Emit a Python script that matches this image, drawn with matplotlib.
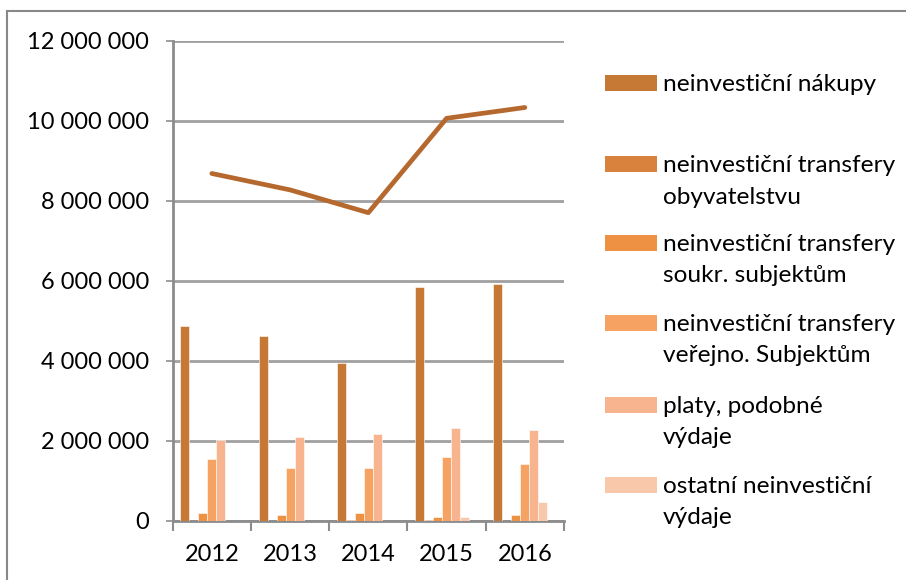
import matplotlib
matplotlib.use("Agg")
import matplotlib.pyplot as plt
from matplotlib.patches import Rectangle
from matplotlib.lines import Line2D
from matplotlib.ticker import FuncFormatter, FixedLocator
import numpy as np

years = ["2012", "2013", "2014", "2015", "2016"]

nakupy = [4860000, 4620000, 3950000, 5850000, 5910000]
transfery_obyv = [0, 0, 15000, 15000, 0]
transfery_soukr = [185000, 140000, 195000, 100000, 140000]
transfery_verej = [1550000, 1330000, 1310000, 1590000, 1420000]
platy = [2020000, 2100000, 2160000, 2320000, 2280000]
ostatni = [0, 0, 0, 85000, 470000]
celkem_linie = [8680000, 8270000, 7700000, 10060000, 10330000]

series = [nakupy, transfery_obyv, transfery_soukr, transfery_verej, platy, ostatni]
labels = [
    ["neinvestiční nákupy"],
    ["neinvestiční transfery", "obyvatelstvu"],
    ["neinvestiční transfery", "soukr. subjektům"],
    ["neinvestiční transfery", "veřejno. Subjektům"],
    ["platy, podobné", "výdaje"],
    ["ostatní neinvestiční", "výdaje"],
]
colors = ["#C67835", "#D9823E", "#EE9143", "#F5A263", "#F8B48E", "#F9C8AB"]
line_color = "#B5692E"
grid_color = "#A0A0A0"
axis_color = "#8C8C8C"

plt.rcParams["font.family"] = ["Lato", "DejaVu Sans"]

W, H = 906, 580
fig = plt.figure(figsize=(W / 100, H / 100), dpi=100)


def fx(px):
    return px / W


def fy(py):
    return 1 - py / H


ax = fig.add_axes([fx(172.7), fy(520.7), fx(564) - fx(172.7), fy(40.7) - fy(520.7)])

x = np.arange(len(years))
bar_w = 0.115
gap = (1 - 7 * bar_w) / 2  # excel leaves room for 7 slots
for k, (vals, col) in enumerate(zip(series, colors)):
    offs = -0.5 + gap + bar_w * (k + 0.5)
    ax.bar(x + offs, vals, width=bar_w, color=col, edgecolor="white", linewidth=0.4, zorder=3)

ax.plot(x, celkem_linie, color=line_color, linewidth=3.4, solid_capstyle="round",
        solid_joinstyle="round", zorder=4)

ax.set_xlim(-0.5, len(years) - 0.5)
ax.set_ylim(0, 12000000)
ax.yaxis.set_major_locator(FixedLocator(np.arange(0, 12000001, 2000000)))
ax.yaxis.set_major_formatter(FuncFormatter(lambda v, p: "{:,}".format(int(v)).replace(",", " ")))
ax.grid(axis="y", color=grid_color, linewidth=2.0, zorder=0)

ax.set_xticks(np.arange(-0.5, len(years), 1.0))
ax.set_xticklabels([])
ax.set_xticks(x, minor=True)
ax.set_xticklabels(years, minor=True)
ax.tick_params(axis="x", which="major", direction="out", length=7, width=1.5, color=axis_color)
ax.tick_params(axis="x", which="minor", length=0, pad=17, labelsize=17)
ax.tick_params(axis="y", direction="out", length=5, width=1.2, color=axis_color, pad=12, labelsize=17)

for s in ["top", "right"]:
    ax.spines[s].set_visible(False)
for s in ["left", "bottom"]:
    ax.spines[s].set_color(axis_color)
    ax.spines[s].set_linewidth(2.0)

# legend drawn by hand: handle aligned with the first label line
centers = [83, 164, 243, 323, 405, 485]
for cy, col, lab in zip(centers, colors, labels):
    fig.add_artist(Rectangle((fx(605), fy(cy + 7.8)), fx(657) - fx(605), fy(cy - 7.8) - fy(cy + 7.8),
                             transform=fig.transFigure, color=col, linewidth=0))
    for i, line in enumerate(lab):
        fig.text(fx(663), fy(cy + 7.7 + 31.8 * i), line, fontsize=17.6, va="baseline", ha="left",
                 color="black")

# outer chart frame
fig.add_artist(Line2D([fx(7), fx(7)], [0, fy(11)], transform=fig.transFigure, color="#888888", linewidth=1.5))
fig.add_artist(Line2D([fx(7), 1], [fy(11), fy(11)], transform=fig.transFigure, color="#888888", linewidth=1.5))

fig.savefig("out.png", dpi=100)
